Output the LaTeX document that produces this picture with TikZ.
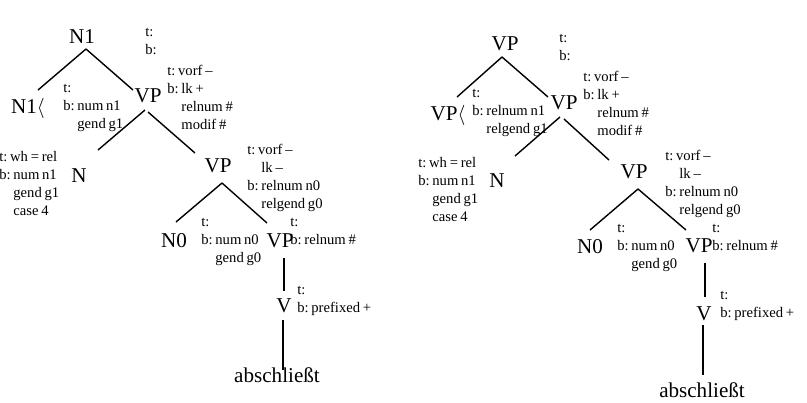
\documentclass[tikz,border=0pt]{standalone}
\usepackage{fontspec}
\setmainfont{Liberation Serif}[WordSpace=0.75]
\frenchspacing

\newcommand{\fsind}{\phantom{b: }}
\newcommand{\fslines}[1]{\begin{tabular}[t]{@{}l@{}}#1\end{tabular}}

\begin{document}
\begin{tikzpicture}[x=0.025cm, y=-0.025cm,
    cat/.style={font=\fontsize{15}{18}\selectfont, inner sep=0pt, anchor=base},
    feat/.style={font=\fontsize{10.4}{12.8}\selectfont, inner sep=0pt, anchor=base west},
    branch/.style={line width=1pt}]

    \useasboundingbox (0,0) rectangle (807,402);

    % 左の木: 節点
    \node[cat] (LR)  at (82,43)   {N1};
    \node[cat] (LS)  at (28,113)  {N1$\langle$};
    \node[cat] (LV1) at (148,102) {VP};
    \node[cat] (LN)  at (79,182)  {N};
    \node[cat] (LV2) at (218,172) {VP};
    \node[cat] (LN0) at (174,247) {N0};
    \node[cat] (LV3) at (280,247) {VP};
    \node[cat] (LV)  at (284,312) {V};
    \node[cat] (LW)  at (277,382) {abschließt};

    % 左の木: 素性
    \node[feat] (LRf)  at (145,36)  {\fslines{t:\\b:}};
    \node[feat] (LSf)  at (63,92)   {\fslines{t:\\b: num n1\\\fsind gend g1}};
    \node[feat] (LV1f) at (167,75)  {\fslines{t: vorf –\\b: lk +\\\fsind relnum \#\\\fsind modif \#}};
    \node[feat] (LNf)  at (-1,161)  {\fslines{t: wh = rel\\b: num n1\\\fsind gend g1\\\fsind case 4}};
    \node[feat] (LV2f) at (247,154) {\fslines{t: vorf –\\\fsind lk –\\b: relnum n0\\\fsind relgend g0}};
    \node[feat] (LN0f) at (201,226) {\fslines{t:\\b: num n0\\\fsind gend g0}};
    \node[feat] (LV3f) at (290,226) {\fslines{t:\\b: relnum \#}};
    \node[feat] (LVf)  at (297,294) {\fslines{t:\\b: prefixed +}};

    % 左の木: 線分
    \draw[branch] ([shift={(4,6)}]LR.base) -- ([shift={(10,-23)}]LS.base);
    \draw[branch] ([shift={(4,6)}]LR.base) -- ([shift={(-15,-12)}]LV1.base);
    \draw[branch] ([shift={(-3,8)}]LV1.base) -- ([shift={(19,-32)}]LN.base);
    \draw[branch] ([shift={(0,10)}]LV1.base) -- ([shift={(-23,-19)}]LV2.base);
    \draw[branch] ([shift={(4,11)}]LV2.base) -- ([shift={(2,-25)}]LN0.base);
    \draw[branch] ([shift={(4,11)}]LV2.base) -- ([shift={(-13,-24)}]LV3.base);
    \draw[branch] ([shift={(4,11)}]LV3.base) -- ([shift={(0,-21)}]LV.base);
    \draw[branch] ([shift={(-1,8)}]LV.base) -- ([shift={(6,-12)}]LW.base);

    % 右の木: 節点
    \node[cat] (RR)  at (505,50)  {VP};
    \node[cat] (RS)  at (448,120) {VP$\langle$};
    \node[cat] (RV1) at (564,109) {VP};
    \node[cat] (RN)  at (497,187) {N};
    \node[cat] (RV2) at (634,178) {VP};
    \node[cat] (RN0) at (590,253) {N0};
    \node[cat] (RV3) at (699,252) {VP};
    \node[cat] (RV)  at (704,320) {V};
    \node[cat] (RW)  at (702,397) {abschließt};

    % 右の木: 素性
    \node[feat] (RRf)  at (559,42)  {\fslines{t:\\b:}};
    \node[feat] (RSf)  at (472,97)  {\fslines{t:\\b: relnum n1\\\fsind relgend g1}};
    \node[feat] (RV1f) at (583,81)  {\fslines{t: vorf –\\b: lk +\\\fsind relnum \#\\\fsind modif \#}};
    \node[feat] (RNf)  at (418,167) {\fslines{t: wh = rel\\b: num n1\\\fsind gend g1\\\fsind case 4}};
    \node[feat] (RV2f) at (665,160) {\fslines{t: vorf –\\\fsind lk –\\b: relnum n0\\\fsind relgend g0}};
    \node[feat] (RN0f) at (617,232) {\fslines{t:\\b: num n0\\\fsind gend g0}};
    \node[feat] (RV3f) at (712,232) {\fslines{t:\\b: relnum \#}};
    \node[feat] (RVf)  at (720,299) {\fslines{t:\\b: prefixed +}};

    % 右の木: 線分
    \draw[branch] ([shift={(-3,7)}]RR.base) -- ([shift={(9,-23)}]RS.base);
    \draw[branch] ([shift={(-3,7)}]RR.base) -- ([shift={(-16,-12)}]RV1.base);
    \draw[branch] ([shift={(-4,8)}]RV1.base) -- ([shift={(18,-31)}]RN.base);
    \draw[branch] ([shift={(0,10)}]RV1.base) -- ([shift={(-25,-18)}]RV2.base);
    \draw[branch] ([shift={(4,11)}]RV2.base) -- ([shift={(0,-23)}]RN0.base);
    \draw[branch] ([shift={(4,11)}]RV2.base) -- ([shift={(-13,-22)}]RV3.base);
    \draw[branch] ([shift={(6,11)}]RV3.base) -- ([shift={(1,-23)}]RV.base);
    \draw[branch] ([shift={(-1,5)}]RV.base) -- ([shift={(1,-22)}]RW.base);

\end{tikzpicture}
\end{document}
